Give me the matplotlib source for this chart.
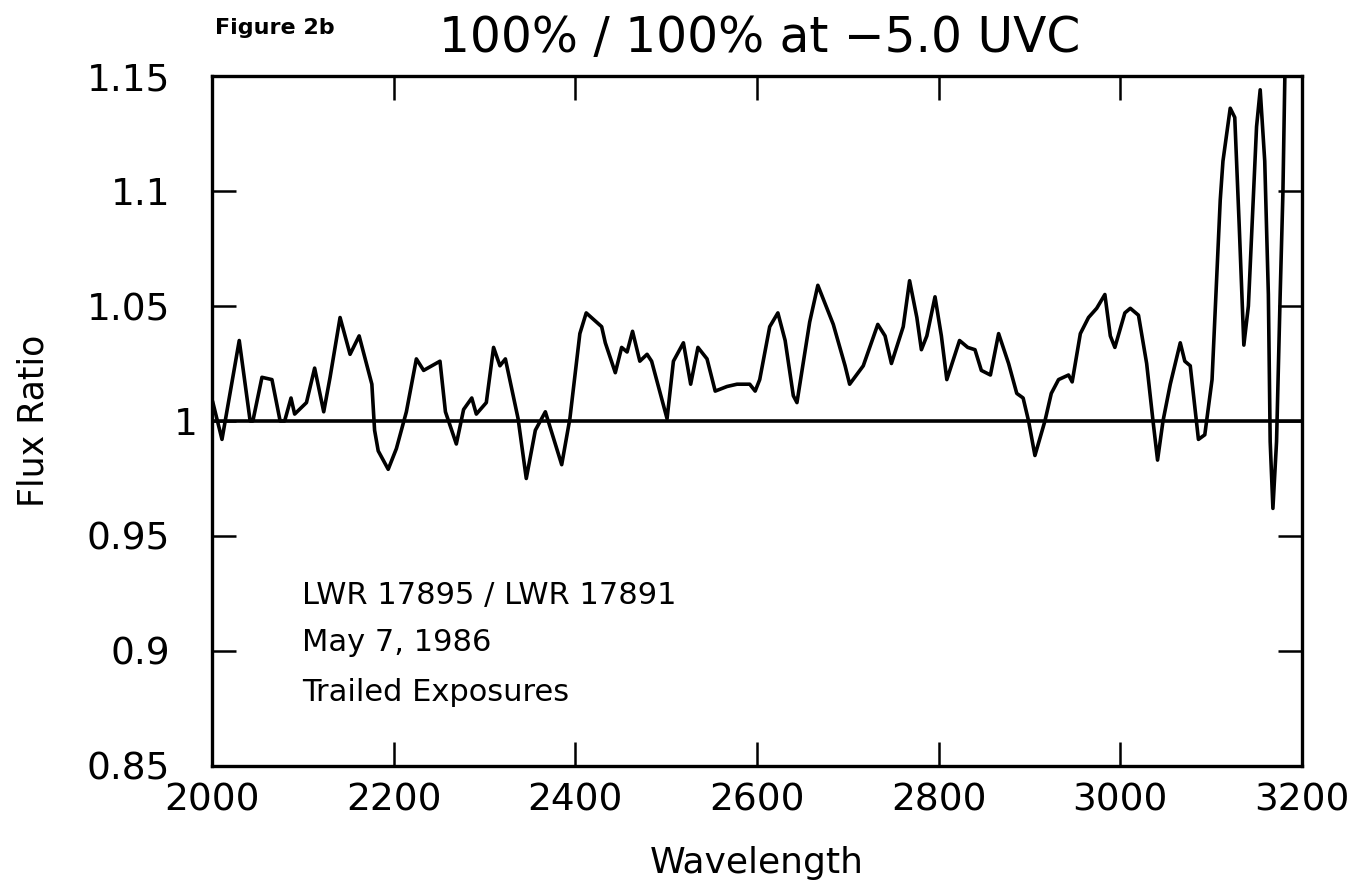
import matplotlib
matplotlib.use("Agg")
import matplotlib.pyplot as plt
import matplotlib.transforms as mtransforms

# flux ratio, wavelength in Angstrom
wavelength = [
    2001, 2011, 2030, 2042, 2045, 2055, 2066, 2075, 2080, 2087, 2091, 2104,
    2113, 2123, 2130, 2141, 2152, 2162, 2176, 2179, 2183, 2194, 2203, 2214,
    2225, 2233, 2251, 2257, 2269, 2277, 2286, 2291, 2302, 2310, 2317, 2323,
    2337, 2346, 2356, 2367, 2385, 2394, 2405, 2412, 2429, 2433, 2444, 2451,
    2457, 2463, 2471, 2479, 2484, 2499, 2501, 2508, 2519, 2527, 2535, 2545,
    2554, 2567, 2578, 2592, 2598, 2603, 2614, 2623, 2631, 2640, 2644, 2658,
    2667, 2684, 2697, 2702, 2717, 2733, 2741, 2748, 2761, 2768, 2776, 2781,
    2787, 2796, 2803, 2809, 2823, 2832, 2840, 2847, 2857, 2866, 2877, 2886,
    2893, 2899, 2906, 2917, 2924, 2932, 2943, 2947, 2956, 2965, 2974, 2983,
    2989, 2994, 3005, 3011, 3020, 3029, 3036, 3041, 3047, 3055, 3066, 3071,
    3077, 3086, 3093, 3101, 3110, 3113, 3121, 3126, 3131, 3136, 3141, 3150,
    3154, 3159, 3163, 3165, 3168, 3172, 3176, 3179, 3182,
]
ratio = [
    1.008, 0.992, 1.035, 1.000, 1.000, 1.019, 1.018, 1.000, 1.000, 1.010, 1.003, 1.008,
    1.023, 1.004, 1.019, 1.045, 1.029, 1.037, 1.016, 0.996, 0.987, 0.979, 0.988, 1.004,
    1.027, 1.022, 1.026, 1.004, 0.990, 1.005, 1.010, 1.003, 1.008, 1.032, 1.024, 1.027,
    1.001, 0.975, 0.996, 1.004, 0.981, 1.001, 1.038, 1.047, 1.041, 1.034, 1.021, 1.032,
    1.030, 1.039, 1.026, 1.029, 1.026, 1.004, 1.001, 1.026, 1.034, 1.016, 1.032, 1.027,
    1.013, 1.015, 1.016, 1.016, 1.013, 1.018, 1.041, 1.047, 1.035, 1.011, 1.008, 1.043,
    1.059, 1.042, 1.024, 1.016, 1.024, 1.042, 1.037, 1.025, 1.041, 1.061, 1.045, 1.031,
    1.037, 1.054, 1.037, 1.018, 1.035, 1.032, 1.031, 1.022, 1.020, 1.038, 1.025, 1.012,
    1.010, 1.000, 0.985, 1.000, 1.012, 1.018, 1.020, 1.017, 1.038, 1.045, 1.049, 1.055,
    1.037, 1.032, 1.047, 1.049, 1.046, 1.025, 1.000, 0.983, 1.000, 1.016, 1.034, 1.026,
    1.024, 0.992, 0.994, 1.018, 1.096, 1.113, 1.136, 1.132, 1.084, 1.033, 1.050, 1.128,
    1.144, 1.113, 1.055, 0.991, 0.962, 0.991, 1.055, 1.099, 1.17,
]

xticks = [2000, 2200, 2400, 2600, 2800, 3000, 3200]
yticks = [0.85, 0.9, 0.95, 1.0, 1.05, 1.1, 1.15]
ytick_labels = ["0.85", "0.9", "0.95", "1", "1.05", "1.1", "1.15"]

fig = plt.figure(figsize=(13.52, 8.88), dpi=100)
ax = fig.add_axes([0.1568, 0.1374, 0.8062, 0.777])

ax.plot(wavelength, ratio, color="black", lw=2.6)
ax.axhline(1.0, color="black", lw=2.6)

ax.set_xlim(2000, 3200)
ax.set_ylim(0.85, 1.15)
ax.set_xticks(xticks)
ax.set_xticklabels([str(t) for t in xticks])
ax.set_yticks(yticks)
ax.set_yticklabels(ytick_labels)
ax.tick_params(direction="in", length=17, width=1.8, top=True, right=True,
               labelsize=27)
ax.tick_params(axis="x", pad=12)
ax.tick_params(axis="y", pad=30)
for s in ax.spines.values():
    s.set_linewidth(2.4)

# the "1" label sits closer to the axis in the original
lbl = ax.get_yticklabels()[3]
lbl.set_transform(lbl.get_transform() +
                  mtransforms.ScaledTranslation(0.27, 0, fig.dpi_scale_trans))

ax.set_xlabel("Wavelength", fontsize=26, labelpad=20)
ax.set_ylabel("Flux Ratio", fontsize=25, labelpad=26)

fig.text(0.562, 0.957, "100% / 100% at \u22125.0 UVC", fontsize=35,
         ha="center", va="center")
fig.text(0.159, 0.968, "Figure 2b", fontsize=16, fontweight="bold",
         ha="left", va="center")

ax.text(2099, 0.924, "LWR 17895 / LWR 17891", fontsize=22, va="center")
ax.text(2099, 0.9035, "May 7, 1986", fontsize=22, va="center")
ax.text(2099, 0.882, "Trailed Exposures", fontsize=22, va="center")

fig.savefig("out.png", dpi=100)
